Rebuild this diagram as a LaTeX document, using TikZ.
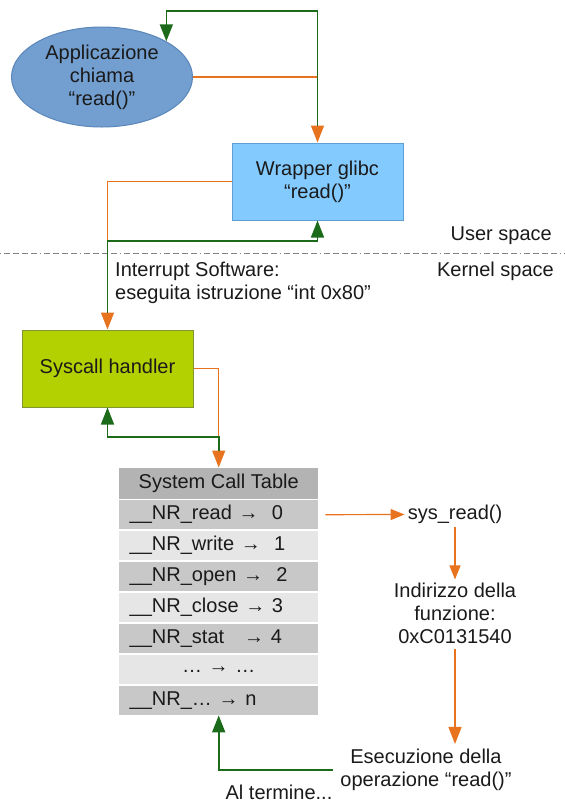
\documentclass[tikz,border=0pt]{standalone}
\usepackage{fontspec}
\setmainfont{Liberation Sans}
\usetikzlibrary{arrows.meta,shapes.geometric}
\definecolor{ellfill}{HTML}{729FCF}
\definecolor{elldraw}{HTML}{5A86BA}
\definecolor{wrapfill}{HTML}{83CAFF}
\definecolor{wrapdraw}{HTML}{5F9FD6}
\definecolor{sysfill}{HTML}{B3D000}
\definecolor{sysdraw}{HTML}{7F9632}
\definecolor{orng}{HTML}{E8731E}
\definecolor{grn}{HTML}{1B6B1B}
\definecolor{hdrgray}{HTML}{B3B3B3}
\definecolor{darkrow}{HTML}{C8C8C8}
\definecolor{lightrow}{HTML}{E6E6E6}
\definecolor{txt}{HTML}{1A1A1A}
\tikzset{
  every node/.style={text=txt, font=\fontsize{20}{23}\selectfont},
  orangeline/.style={draw=orng, line width=1.4pt, -{Triangle[width=13pt,length=17pt]}},
  smallorange/.style={draw=orng, line width=1.2pt, -{Triangle[width=11pt,length=14pt]}},
  greenline/.style={draw=grn, line width=1.6pt, -{Triangle[width=13pt,length=17pt]}},
  boxstyle/.style={rectangle, line width=1pt, minimum width=171pt, minimum height=77pt, align=center, inner sep=0pt},
  rowbox/.style={rectangle, minimum width=199pt, minimum height=29pt, inner sep=0pt, anchor=north west, text width=192pt, align=left},
  plain/.style={align=center, inner sep=1pt}
}
\begin{document}
\begin{tikzpicture}[x=1pt,y=-1pt]
\useasboundingbox (0,0) rectangle (565,807);
% nodes
\node[ellipse, fill=ellfill, draw=elldraw, line width=1pt, minimum width=181pt, minimum height=100pt, inner sep=0pt, align=center] (ell) at (102,77) {Applicazione\\chiama\\“read()”};
\node[boxstyle, fill=wrapfill, draw=wrapdraw] (wrap) at (317.5,181.5) {Wrapper glibc\\“read()”};
\node[boxstyle, fill=sysfill, draw=sysdraw] (sys) at (107.5,368.5) {Syscall handler};
% user/kernel separator
\draw[gray, line width=0.9pt, dash pattern=on 1pt off 3pt on 6pt off 3pt on 6pt off 3pt on 6pt off 3pt on 6pt off 3pt] (0,253) -- (565,253);
\node[anchor=east, inner sep=0pt] (user) at (552,236) {User space};
\node[anchor=east, inner sep=0pt] (kernel) at (554,271) {Kernel space};
\node[anchor=north west, align=left, inner sep=0pt] (intr) at (115,262) {Interrupt Software:\\eseguita istruzione “int 0x80”};
% table
\node[rectangle, fill=hdrgray, minimum width=199pt, minimum height=31pt, inner sep=0pt, anchor=north west] (hdr) at (119,467.5) {System Call Table};
\node[rowbox, fill=darkrow] (r0) at (119,500) {\hspace*{7pt}\_\_NR\_read →\ \ 0};
\node[rowbox, fill=lightrow] (r1) at (119,531) {\hspace*{7pt}\_\_NR\_write →\ \ 1};
\node[rowbox, fill=darkrow] (r2) at (119,562) {\hspace*{7pt}\_\_NR\_open →\ \ 2};
\node[rowbox, fill=lightrow] (r3) at (119,593) {\hspace*{7pt}\_\_NR\_close → 3};
\node[rowbox, fill=darkrow] (r4) at (119,624) {\hspace*{7pt}\_\_NR\_stat\ \ \ → 4};
\node[rowbox, fill=lightrow, align=center] (r5) at (119,655) {… → …};
\node[rowbox, fill=darkrow] (r6) at (119,686) {\hspace*{7pt}\_\_NR\_… → n};
% right column
\node[plain] (sysread) at (455,514.5) {sys\_read()};
\node[plain] (addr) at (455,613) {Indirizzo della\\funzione:\\0xC0131540};
\node[plain] (exec) at (426,770) {Esecuzione della\\operazione “read()”};
\node[plain] (term) at (279,792) {Al termine...};
% helper coordinates
\coordinate (gtop) at (317,11);
\coordinate (g2) at (107.5,241);
\coordinate (g3) at (218.5,437);
\coordinate (g4) at (333,770);
% connectors: orange first, green over (green starts above the orange tips)
\draw[orangeline] (ell.east) -| (wrap.north);
\draw[greenline] ([yshift=17pt]wrap.north) -- (wrap.north |- gtop) -| (ell.north east);
\draw[orangeline] (wrap.west) -| (sys.north);
\draw[greenline] ([yshift=17pt]sys.north) -- (sys.north |- g2) -| (wrap.south);
\draw[orangeline] (sys.east) -| (hdr.north);
\draw[greenline] ([yshift=17pt]hdr.north) -- (hdr.north |- g3) -| (sys.south);
\draw[smallorange, shorten <=7pt, shorten >=2pt] (r0.east) -- (sysread.west);
\draw[smallorange, shorten <=2pt, shorten >=2pt] (sysread.south) -- (addr.north);
\draw[orangeline, shorten <=4pt, shorten >=4pt] (addr.south) -- (addr.south |- exec.north);
\draw[greenline] (g4) -| (r6.south);
\end{tikzpicture}
\end{document}
